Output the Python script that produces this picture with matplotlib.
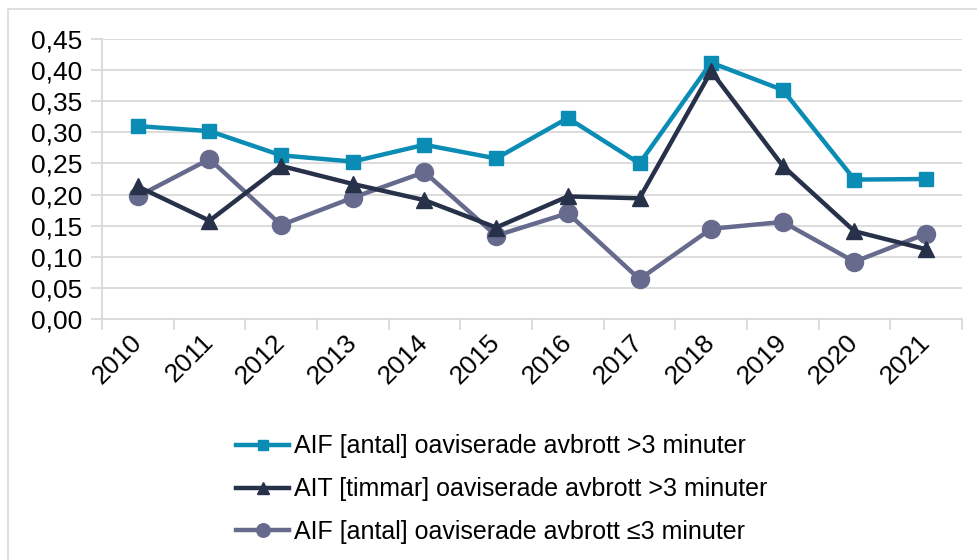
import matplotlib
matplotlib.use("Agg")
import matplotlib.pyplot as plt
from matplotlib.patches import Rectangle
from matplotlib.ticker import FixedLocator, FuncFormatter, NullFormatter
import numpy as np

years = ["2010", "2011", "2012", "2013", "2014", "2015",
         "2016", "2017", "2018", "2019", "2020", "2021"]
aif_over3 = [0.310, 0.302, 0.263, 0.253, 0.280, 0.258,
             0.323, 0.250, 0.412, 0.368, 0.224, 0.225]
ait_over3 = [0.213, 0.158, 0.246, 0.217, 0.191, 0.147,
             0.197, 0.194, 0.398, 0.246, 0.141, 0.112]
aif_le3 = [0.197, 0.257, 0.151, 0.195, 0.236, 0.134,
           0.170, 0.064, 0.145, 0.156, 0.092, 0.137]
labels = ["AIF [antal] oaviserade avbrott >3 minuter",
          "AIT [timmar] oaviserade avbrott >3 minuter",
          "AIF [antal] oaviserade avbrott \u22643 minuter"]
yticks = [0.00, 0.05, 0.10, 0.15, 0.20, 0.25, 0.30, 0.35, 0.40, 0.45]

plt.rcParams['font.family'] = ['Liberation Sans', 'DejaVu Sans']

W, H = 978, 560
fig = plt.figure(figsize=(W / 100, H / 100), dpi=100)
ax = fig.add_axes([102 / W, 1 - 319 / H, (962 - 102) / W, (319 - 39) / H])

fig.patches.append(Rectangle((8 / W, -0.1), 1.2, 1 - 9 / H + 0.1, transform=fig.transFigure,
                             fill=False, edgecolor='#d9d9d9', linewidth=1.2))

x = np.arange(len(years))
teal, navy, purple = '#0A8CB5', '#27324A', '#666A8D'
ax.plot(x, aif_over3, color=teal, lw=3.2, marker='s', ms=10.5, label=labels[0], zorder=3)
ax.plot(x, ait_over3, color=navy, lw=3.2, marker='^', ms=11, label=labels[1], zorder=4)
ax.plot(x, aif_le3, color=purple, lw=3.2, marker='o', ms=13, label=labels[2], zorder=3)

ax.set_xlim(-0.5, len(years) - 0.5)
ax.set_ylim(0, 0.45)
ax.yaxis.set_major_locator(FixedLocator(yticks))
ax.yaxis.set_major_formatter(FuncFormatter(lambda v, p: f"{v:.2f}".replace('.', ',')))
ax.grid(axis='y', color='#d9d9d9', lw=1.3)
ax.set_axisbelow(True)

ax.xaxis.set_major_locator(FixedLocator(np.arange(len(years) + 1) - 0.5))
ax.xaxis.set_major_formatter(NullFormatter())
ax.xaxis.set_minor_locator(FixedLocator(x))
ax.set_xticklabels(years, minor=True, rotation=45, ha='right', va='center',
                   rotation_mode='anchor', fontsize=19)
ax.tick_params(axis='x', which='minor', length=0, pad=14)
ax.tick_params(axis='x', which='major', length=8, color='#d9d9d9', width=1.3)
ax.tick_params(axis='y', length=8, color='#d9d9d9', width=1.3, labelsize=19, pad=6)

for s in ['top', 'right']:
    ax.spines[s].set_visible(False)
for s in ['left', 'bottom']:
    ax.spines[s].set_color('#d9d9d9')
    ax.spines[s].set_linewidth(1.3)

leg = fig.legend(loc='upper left', bbox_to_anchor=(214 / W, 1 - 412 / H), frameon=False,
                 fontsize=18, handlelength=2.1, handletextpad=0.2, labelspacing=0.75,
                 markerscale=0.75)

fig.savefig("out.png", dpi=100)
